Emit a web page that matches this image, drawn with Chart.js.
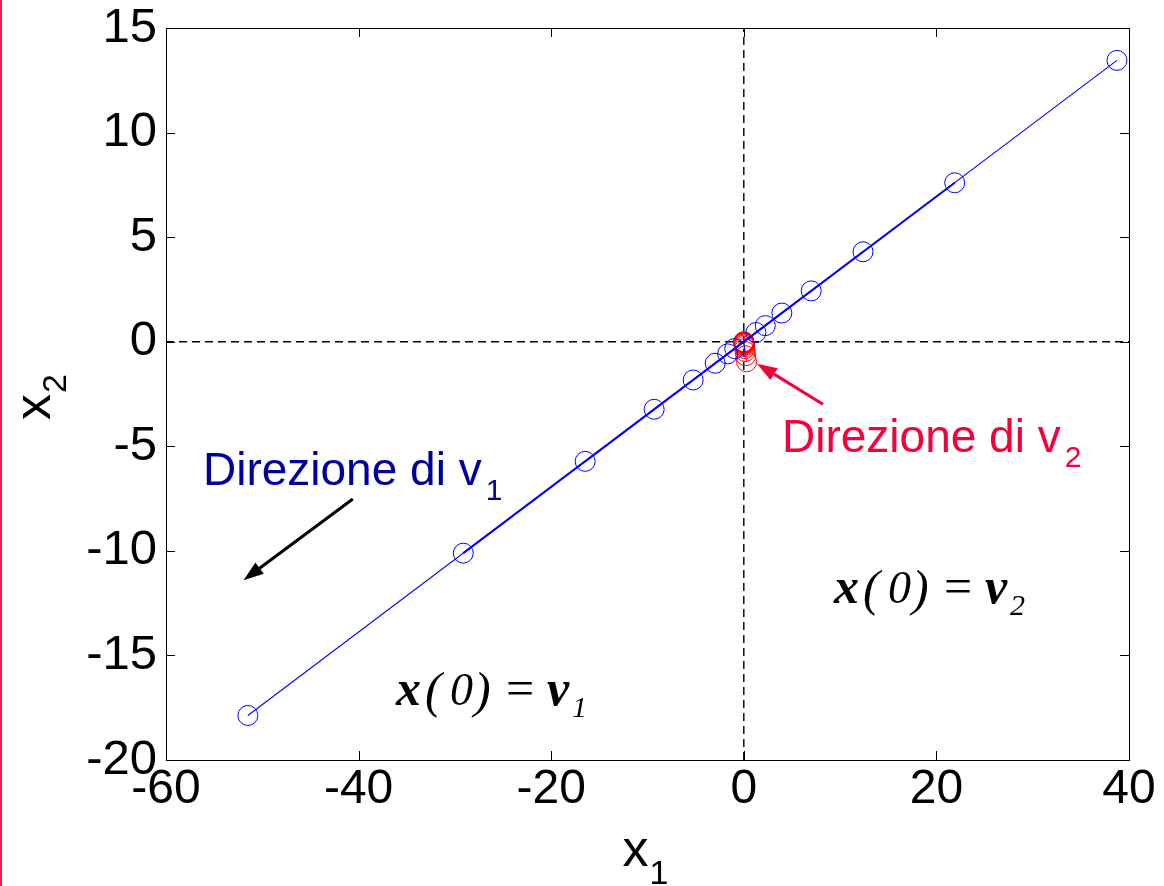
<!DOCTYPE html>
<html>
<head>
<meta charset="utf-8">
<script src="https://cdn.jsdelivr.net/npm/chart.js@4/dist/chart.umd.min.js"></script>
<style>
  html, body { margin: 0; padding: 0; background: #fff; }
  #wrap { position: relative; width: 1164px; height: 886px; }
  #edge { position: absolute; left: 0; top: 0; width: 2px; height: 886px; background: #f0204a; }
</style>
</head>
<body>
<div id="wrap"><canvas id="plot" width="1164" height="886"></canvas><div id="edge"></div></div>
<script>
const x1Ticks = [-60, -40, -20, 0, 20, 40];
const x2Ticks = [-20, -15, -10, -5, 0, 5, 10, 15];

// x(k) starting from v1: unstable mode, flips side of the origin every step
const v1X = [-0.94, 1.26, -1.68, 2.23, -2.97, 3.95, -5.26, 7.0, -9.31, 12.38, -16.47, 21.9, -29.13, 38.75, -51.5];
const v1Y = [-0.33, 0.44, -0.58, 0.77, -1.03, 1.37, -1.83, 2.43, -3.23, 4.30, -5.72, 7.60, -10.11, 13.45, -17.87];

// x(k) starting from v2: stable mode, shrinks toward the origin
const v2X = [0.29, 0.2, 0.14, 0.1, 0.07, 0.05, 0.035, 0.024, 0.017, 0.012, 0.008, 0.006, 0.004, 0.003, 0.002];
const v2Y = [-0.96, -0.67, -0.47, -0.33, -0.23, -0.16, -0.11, -0.08, -0.055, -0.039, -0.027, -0.019, -0.013, -0.009, -0.006];

const SANS = "'Liberation Sans', Arial, sans-serif";
const SERIF = "'Liberation Serif', 'Times New Roman', serif";
const BLUE = '#0000ff';
const RED = '#ff0000';
const NAVY = '#00009c';
const CRIMSON = '#f5003a';

const toPts = (xs, ys) => xs.map((x, i) => ({ x: x, y: ys[i] }));

// the early steps all pile up across the middle and read heavier,
// the last two long jumps stay thin
const stepWidth = c => (c.p0DataIndex < 12 ? 2 : 1.1);

// box with inward ticks on all four sides
const frame = {
  id: 'frame',
  afterDatasetsDraw(chart) {
    const { ctx, chartArea: a, scales } = chart;
    ctx.save();
    ctx.strokeStyle = '#000';
    ctx.lineWidth = 1;
    ctx.strokeRect(a.left + 0.5, a.top + 0.5, a.right - a.left, a.bottom - a.top);
    ctx.beginPath();
    x1Ticks.forEach(v => {
      const px = Math.round(scales.x.getPixelForValue(v)) + 0.5;
      ctx.moveTo(px, a.bottom); ctx.lineTo(px, a.bottom - 9);
      ctx.moveTo(px, a.top); ctx.lineTo(px, a.top + 9);
    });
    x2Ticks.forEach(v => {
      const py = Math.round(scales.y.getPixelForValue(v)) + 0.5;
      ctx.moveTo(a.left, py); ctx.lineTo(a.left + 9, py);
      ctx.moveTo(a.right, py); ctx.lineTo(a.right - 9, py);
    });
    ctx.stroke();
    ctx.restore();
  }
};

function arrow(ctx, x0, y0, x1, y1, color) {
  const ang = Math.atan2(y1 - y0, x1 - x0);
  const len = 20, half = 7;
  const bx = x1 - len * Math.cos(ang), by = y1 - len * Math.sin(ang);
  ctx.strokeStyle = color;
  ctx.fillStyle = color;
  ctx.lineWidth = 3;
  ctx.beginPath();
  ctx.moveTo(x0, y0);
  ctx.lineTo(bx, by);
  ctx.stroke();
  ctx.beginPath();
  ctx.moveTo(x1, y1);
  ctx.lineTo(bx + half * Math.sin(ang), by - half * Math.cos(ang));
  ctx.lineTo(bx - half * Math.sin(ang), by + half * Math.cos(ang));
  ctx.closePath();
  ctx.fill();
}

function label(ctx, x, y, text, sub, color) {
  ctx.fillStyle = color;
  ctx.textAlign = 'left';
  ctx.textBaseline = 'alphabetic';
  ctx.font = '46px ' + SANS;
  ctx.fillText(text, x, y);
  const w = ctx.measureText(text).width;
  ctx.font = '30px ' + SANS;
  ctx.fillText(sub, x + w + 4, y + 15);
}

// x(0) = v_n written out piece by piece
function equation(ctx, x, y, sub) {
  const parts = [
    ['x', 'italic bold 50px ', -2, 0],
    ['(', 'italic 50px ', 27, 2],
    ['0', 'italic 46px ', 52, 0],
    [')', 'italic 50px ', 76, 2],
    ['=', '50px ', 108, 0],
    ['v', 'italic bold 50px ', 149, 0],
    [sub, 'italic 30px ', 174, 12]
  ];
  ctx.fillStyle = '#000';
  ctx.textAlign = 'left';
  ctx.textBaseline = 'alphabetic';
  parts.forEach(p => {
    ctx.font = p[1] + SERIF;
    ctx.fillText(p[0], x + p[2], y + p[3]);
  });
}

const notes = {
  id: 'notes',
  afterDraw(chart) {
    const { ctx, chartArea: a, scales } = chart;
    const px = v => scales.x.getPixelForValue(v);
    const py = v => scales.y.getPixelForValue(v);
    ctx.save();
    arrow(ctx, px(-40.6), py(-7.52), px(-51.95), py(-11.4), '#000');
    arrow(ctx, px(8.22), py(-2.99), px(1.37), py(-1.05), CRIMSON);
    label(ctx, px(-56.16), py(-6.86), 'Direzione di v', '1', NAVY);
    label(ctx, px(3.97), py(-5.27), 'Direzione di v', '2', CRIMSON);
    equation(ctx, px(-35.9), py(-17.38), '1');
    equation(ctx, px(9.57), py(-12.5), '2');

    // axis titles with subscripts
    ctx.fillStyle = '#000';
    ctx.textAlign = 'left';
    ctx.textBaseline = 'alphabetic';
    const cx = (a.left + a.right) / 2;
    ctx.font = '52px ' + SANS;
    ctx.fillText('x', cx - 25, 866);
    ctx.font = '34px ' + SANS;
    ctx.fillText('1', cx + 2, 884);

    ctx.translate(50, (a.top + a.bottom) / 2);
    ctx.rotate(-Math.PI / 2);
    ctx.font = '52px ' + SANS;
    ctx.fillText('x', -26, 0);
    ctx.font = '34px ' + SANS;
    ctx.fillText('2', 1, 16);
    ctx.restore();
  }
};

new Chart(document.getElementById('plot'), {
  type: 'scatter',
  data: {
    datasets: [
      {
        data: toPts(v1X, v1Y),
        showLine: true,
        borderColor: BLUE,
        borderWidth: 1.1,
        segment: { borderWidth: stepWidth },
        pointRadius: 10,
        pointBorderWidth: 1,
        pointBorderColor: BLUE,
        pointBackgroundColor: 'rgba(0,0,0,0)',
      },
      {
        data: toPts(v2X, v2Y),
        showLine: true,
        borderColor: RED,
        borderWidth: 1.1,
        pointRadius: 10,
        pointBorderWidth: 1,
        pointBorderColor: RED,
        pointBackgroundColor: 'rgba(0,0,0,0)',
      },
      {
        data: [{ x: -60, y: 0 }, { x: 40, y: 0 }],
        showLine: true,
        borderColor: '#000',
        borderWidth: 1.4,
        borderDash: [8, 5],
        pointRadius: 0,
      },
      {
        data: [{ x: 0, y: -20 }, { x: 0, y: 15 }],
        showLine: true,
        borderColor: '#000',
        borderWidth: 1.4,
        borderDash: [8, 5],
        pointRadius: 0,
      },
    ],
  },
  options: {
    responsive: false,
    animation: false,
    layout: { padding: { top: 28, right: 35, left: 0, bottom: 0 } },
    plugins: {
      legend: { display: false },
      tooltip: { enabled: false },
    },
    scales: {
      x: {
        type: 'linear',
        min: -60,
        max: 40,
        afterBuildTicks: s => { s.ticks = x1Ticks.map(v => ({ value: v })); },
        afterFit: s => { s.height = 126; s.paddingLeft = 0; s.paddingRight = 0; },
        grid: { display: false, drawTicks: false },
        border: { display: false },
        ticks: {
          color: '#000',
          padding: 1,
          maxRotation: 0,
          autoSkip: false,
          font: { family: SANS, size: 48 },
        },
      },
      y: {
        type: 'linear',
        min: -20,
        max: 15,
        afterBuildTicks: s => { s.ticks = x2Ticks.map(v => ({ value: v })); },
        afterFit: s => { s.width = 166; s.paddingTop = 0; s.paddingBottom = 0; },
        grid: { display: false, drawTicks: false },
        border: { display: false },
        ticks: {
          color: '#000',
          padding: 9,
          autoSkip: false,
          font: { family: SANS, size: 49 },
        },
      },
    },
  },
  plugins: [frame, notes],
});
</script>
</body>
</html>
